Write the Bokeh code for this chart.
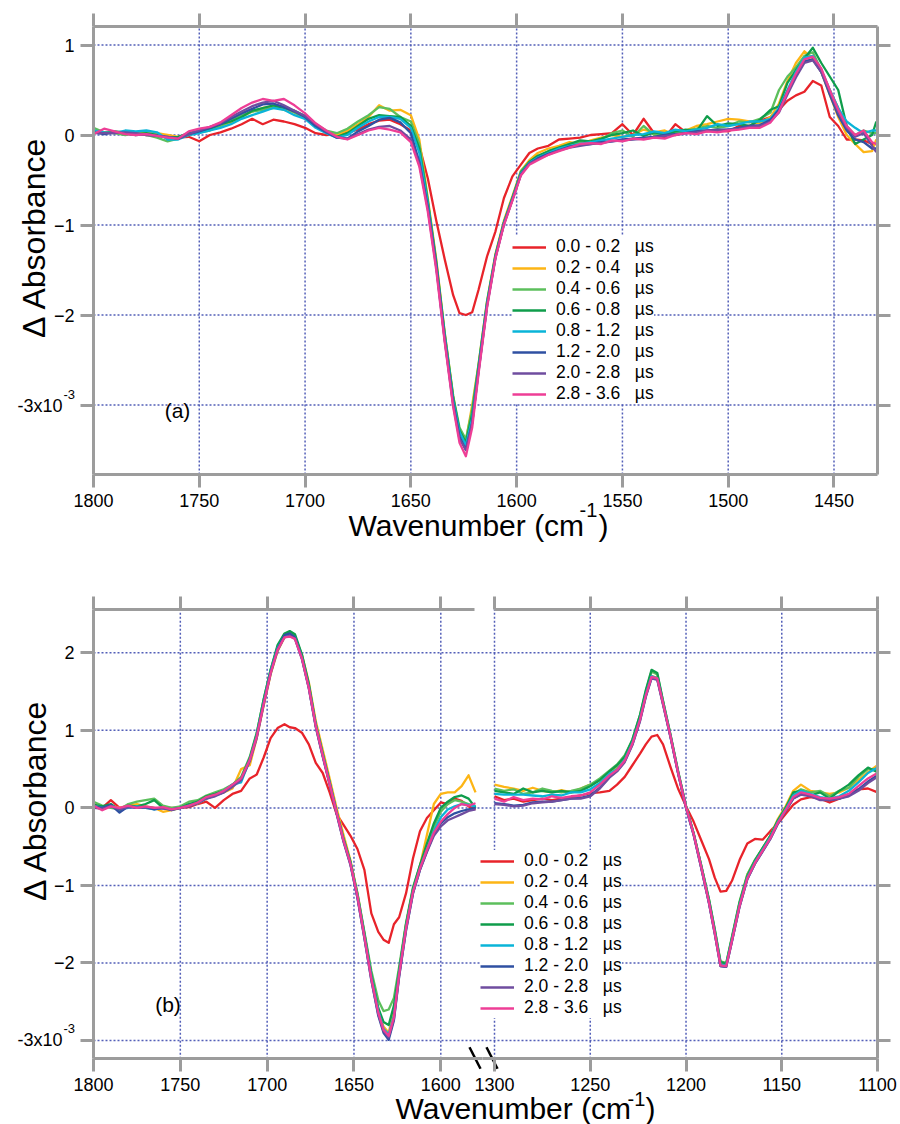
import math
from bokeh.plotting import figure
from bokeh.models import Range1d, LinearAxis, FixedTicker, Legend, LegendItem, Label
from bokeh.layouts import column
from bokeh.embed import file_html
from bokeh.resources import INLINE

# ---------------------------------------------------------------- data
SERIES_LABELS = ["0.0 - 0.2", "0.2 - 0.4", "0.4 - 0.6", "0.6 - 0.8",
                 "0.8 - 1.2", "1.2 - 2.0", "2.0 - 2.8", "2.8 - 3.6"]
COLORS = ["#E8232A", "#FDB515", "#5CBF5C", "#0F9D4B",
          "#0AB4D8", "#2F50A2", "#6F4D9F", "#EE3E96"]

XTICKS_A = [1800, 1750, 1700, 1650, 1600, 1550, 1500, 1450]
YTICKS_A = [-3, -2, -1, 0, 1]
XTICKS_BL = [1800, 1750, 1700, 1650, 1600]
XTICKS_BR = [1300, 1250, 1200, 1150, 1100]
YTICKS_B = [-3, -2, -1, 0, 1, 2]

# panel (a) wavenumbers
XA = [1800, 1795, 1790, 1785, 1780, 1775, 1770, 1765, 1760, 1755,
      1750, 1745, 1740, 1735, 1730, 1725, 1720, 1715, 1710, 1705,
      1700, 1695, 1690, 1685, 1680, 1675, 1670, 1665, 1660, 1655,
      1650, 1646, 1642, 1638, 1634, 1630, 1627, 1624, 1621, 1618,
      1614, 1610, 1606, 1602, 1598, 1594, 1590, 1585, 1580, 1575,
      1570, 1565, 1560, 1555, 1550, 1545, 1540, 1535, 1530, 1525,
      1520, 1515, 1510, 1505, 1500, 1495, 1490, 1485, 1480, 1476,
      1472, 1468, 1464, 1460, 1456, 1452, 1448, 1444, 1440, 1436,
      1432, 1430]

A_S1 = [0.02, 0.03, 0.02, 0.03, 0.02, 0.00, 0.00, -0.02, -0.03, -0.02,
        -0.07, 0.00, 0.03, 0.07, 0.12, 0.18, 0.12, 0.17, 0.15, 0.12,
        0.08, 0.02, 0.00, 0.01, 0.03, 0.06, 0.12, 0.16, 0.17, 0.12,
        0.05, -0.12, -0.48, -0.95, -1.38, -1.78, -1.98, -2.00, -1.97, -1.72,
        -1.35, -1.07, -0.70, -0.46, -0.33, -0.20, -0.15, -0.12, -0.05, -0.04,
        -0.03, 0.00, 0.01, 0.02, 0.12, 0.00, 0.18, 0.02, -0.03, 0.12,
        0.03, 0.05, 0.04, 0.05, 0.04, 0.10, 0.10, 0.16, 0.20, 0.28,
        0.38, 0.44, 0.48, 0.60, 0.55, 0.20, 0.10, -0.05, -0.05, -0.06,
        -0.10, -0.10]
A_S2 = [0.03, 0.02, 0.03, 0.02, 0.00, 0.04, 0.02, 0.00, -0.02, 0.00,
        0.04, 0.06, 0.10, 0.14, 0.20, 0.26, 0.30, 0.32, 0.28, 0.25,
        0.18, 0.10, 0.04, 0.00, 0.05, 0.12, 0.20, 0.33, 0.27, 0.28,
        0.22, -0.05, -0.70, -1.38, -2.20, -2.90, -3.30, -3.40, -3.00, -2.55,
        -1.85, -1.32, -0.95, -0.68, -0.40, -0.28, -0.20, -0.15, -0.12, -0.08,
        -0.10, -0.06, -0.03, 0.00, -0.02, 0.00, 0.06, 0.03, 0.05, 0.00,
        0.05, 0.10, 0.12, 0.15, 0.18, 0.17, 0.15, 0.13, 0.20, 0.35,
        0.60, 0.80, 0.93, 0.85, 0.70, 0.45, 0.20, 0.00, -0.10, -0.19,
        -0.18, -0.05]
A_S3 = [0.08, 0.03, 0.02, 0.00, 0.02, 0.00, -0.03, -0.07, -0.04, 0.00,
        0.03, 0.05, 0.10, 0.16, 0.22, 0.26, 0.28, 0.30, 0.32, 0.25,
        0.20, 0.12, 0.05, 0.02, 0.07, 0.15, 0.22, 0.31, 0.29, 0.20,
        0.15, -0.10, -0.72, -1.40, -2.20, -2.90, -3.25, -3.38, -3.05, -2.55,
        -1.85, -1.33, -0.97, -0.70, -0.40, -0.30, -0.24, -0.18, -0.14, -0.10,
        -0.08, -0.08, -0.05, 0.02, 0.05, -0.02, 0.10, 0.00, 0.02, 0.03,
        0.05, 0.07, 0.10, 0.08, 0.10, 0.15, 0.14, 0.18, 0.25, 0.50,
        0.65, 0.75, 0.88, 0.92, 0.72, 0.50, 0.30, 0.10, 0.00, 0.05,
        0.02, 0.02]
A_S4 = [0.05, 0.02, 0.04, 0.03, 0.01, 0.02, 0.00, -0.03, -0.02, 0.02,
        0.05, 0.07, 0.12, 0.15, 0.20, 0.27, 0.30, 0.33, 0.30, 0.27,
        0.21, 0.10, 0.03, -0.02, 0.02, 0.10, 0.18, 0.22, 0.21, 0.20,
        0.10, -0.15, -0.74, -1.42, -2.22, -2.92, -3.28, -3.42, -3.10, -2.57,
        -1.87, -1.34, -0.97, -0.70, -0.42, -0.30, -0.23, -0.18, -0.14, -0.10,
        -0.06, -0.07, -0.04, 0.00, 0.02, 0.05, -0.01, 0.03, 0.01, 0.04,
        0.06, 0.04, 0.21, 0.10, 0.13, 0.12, 0.10, 0.17, 0.28, 0.32,
        0.58, 0.72, 0.85, 0.97, 0.80, 0.65, 0.50, 0.10, -0.10, -0.05,
        0.00, 0.15]
A_S5 = [0.05, 0.03, 0.02, 0.05, 0.04, 0.05, 0.03, -0.05, -0.05, 0.00,
        0.02, 0.05, 0.08, 0.12, 0.18, 0.22, 0.26, 0.30, 0.28, 0.22,
        0.18, 0.08, 0.02, -0.03, 0.00, 0.08, 0.15, 0.20, 0.20, 0.18,
        0.08, -0.20, -0.76, -1.45, -2.24, -2.95, -3.30, -3.45, -3.15, -2.60,
        -1.88, -1.35, -0.98, -0.71, -0.43, -0.31, -0.25, -0.20, -0.15, -0.12,
        -0.10, -0.08, -0.06, -0.04, -0.02, 0.00, 0.01, 0.04, 0.02, 0.06,
        0.04, 0.06, 0.08, 0.12, 0.10, 0.12, 0.15, 0.15, 0.18, 0.30,
        0.50, 0.70, 0.86, 0.88, 0.72, 0.50, 0.30, 0.15, 0.08, 0.02,
        0.05, 0.05]
A_S6 = [0.03, 0.01, 0.03, 0.02, 0.00, 0.01, -0.01, -0.02, -0.04, 0.01,
        0.04, 0.08, 0.12, 0.18, 0.24, 0.29, 0.34, 0.35, 0.31, 0.26,
        0.20, 0.10, 0.03, -0.03, -0.04, 0.04, 0.10, 0.17, 0.19, 0.14,
        0.02, -0.30, -0.80, -1.45, -2.27, -2.98, -3.35, -3.50, -3.20, -2.62,
        -1.90, -1.36, -0.99, -0.72, -0.44, -0.32, -0.26, -0.21, -0.17, -0.13,
        -0.11, -0.10, -0.08, -0.07, -0.05, -0.04, -0.03, -0.02, 0.00, 0.01,
        0.02, 0.04, 0.05, 0.06, 0.06, 0.08, 0.10, 0.11, 0.17, 0.28,
        0.48, 0.66, 0.82, 0.84, 0.70, 0.45, 0.22, 0.05, -0.05, -0.08,
        -0.15, -0.15]
A_S7 = [0.02, 0.02, 0.02, 0.03, 0.02, 0.00, -0.01, -0.02, -0.04, 0.01,
        0.05, 0.09, 0.13, 0.20, 0.26, 0.32, 0.36, 0.38, 0.33, 0.27,
        0.21, 0.12, 0.04, -0.02, -0.04, 0.01, 0.06, 0.09, 0.10, 0.05,
        -0.05, -0.32, -0.82, -1.47, -2.28, -3.00, -3.38, -3.50, -3.20, -2.63,
        -1.90, -1.36, -0.99, -0.72, -0.44, -0.32, -0.27, -0.22, -0.17, -0.14,
        -0.12, -0.10, -0.09, -0.07, -0.06, -0.05, -0.04, -0.03, -0.01, 0.00,
        0.02, 0.03, 0.05, 0.05, 0.06, 0.07, 0.09, 0.10, 0.15, 0.25,
        0.45, 0.64, 0.80, 0.83, 0.70, 0.48, 0.25, 0.08, -0.02, 0.02,
        -0.12, -0.19]
A_S8 = [0.01, 0.07, 0.04, 0.01, 0.00, 0.01, -0.01, -0.03, -0.04, 0.04,
        0.07, 0.09, 0.14, 0.22, 0.30, 0.36, 0.40, 0.38, 0.40, 0.33,
        0.24, 0.13, 0.05, -0.02, -0.05, 0.00, 0.05, 0.08, 0.06, 0.03,
        -0.08, -0.35, -0.85, -1.50, -2.30, -3.02, -3.42, -3.57, -3.25, -2.65,
        -1.92, -1.37, -1.00, -0.73, -0.45, -0.33, -0.28, -0.22, -0.18, -0.14,
        -0.10, -0.09, -0.10, -0.06, -0.07, -0.04, -0.05, -0.03, -0.04, 0.00,
        0.02, 0.01, 0.04, 0.03, 0.05, 0.06, 0.08, 0.08, 0.14, 0.26,
        0.48, 0.68, 0.84, 0.87, 0.74, 0.50, 0.28, 0.10, 0.00, 0.05,
        -0.08, -0.10]

# panel (b), high-wavenumber segment
XBL = [1800, 1795, 1790, 1785, 1780, 1775, 1770, 1765, 1760, 1755,
       1750, 1745, 1740, 1735, 1730, 1725, 1720, 1715, 1710,
       1706, 1702, 1698, 1694, 1690, 1687, 1684,
       1680, 1676, 1672, 1668, 1664, 1660, 1656, 1652, 1648, 1644, 1640, 1636,
       1633, 1630, 1627, 1624,
       1620, 1616, 1612, 1608, 1604, 1600, 1596, 1592, 1588, 1584, 1580]

BL_S1 = [0.05, 0.00, 0.10, 0.00, 0.02, 0.03, 0.00, -0.01, 0.00, 0.00,
         0.00, 0.01, 0.05, 0.08, 0.00, 0.10, 0.18, 0.22, 0.38,
         0.43, 0.65, 0.90, 1.03, 1.08, 1.04, 1.03,
         0.97, 0.82, 0.58, 0.45, 0.20, -0.08, -0.22, -0.36, -0.53, -0.80, -1.36, -1.60,
         -1.70, -1.74, -1.50, -1.41,
         -1.10, -0.65, -0.30, -0.13, -0.03, 0.07, 0.05, 0.12, 0.09, 0.02, -0.02]
BL_S2 = [0.02, -0.02, 0.03, 0.00, 0.03, 0.05, 0.02, 0.00, -0.05, -0.03,
         0.00, 0.04, 0.06, 0.12, 0.17, 0.20, 0.25, 0.50, 0.55,
         0.90, 1.32, 1.72, 2.02, 2.20, 2.22, 2.20,
         1.98, 1.62, 1.12, 0.75, 0.38, 0.00, -0.35, -0.68, -1.10, -1.62, -2.15, -2.60,
         -2.82, -2.90, -2.60, -2.10,
         -1.50, -1.05, -0.75, -0.35, 0.05, 0.18, 0.20, 0.20, 0.28, 0.42, 0.20]
BL_S3 = [0.08, 0.03, 0.00, -0.02, 0.05, 0.08, 0.10, 0.12, 0.03, 0.00,
         0.02, 0.08, 0.10, 0.16, 0.20, 0.24, 0.30, 0.40, 0.66,
         0.97, 1.40, 1.78, 2.08, 2.24, 2.26, 2.22,
         1.96, 1.58, 1.08, 0.70, 0.33, -0.05, -0.40, -0.70, -1.10, -1.60, -2.10, -2.48,
         -2.62, -2.60, -2.45, -2.05,
         -1.48, -1.02, -0.74, -0.50, -0.25, -0.05, 0.05, 0.10, 0.08, 0.05, 0.02]
BL_S4 = [0.04, 0.02, 0.05, -0.03, 0.03, 0.02, 0.05, 0.10, 0.00, -0.02,
         0.00, 0.05, 0.08, 0.15, 0.18, 0.22, 0.30, 0.38, 0.64,
         0.96, 1.40, 1.78, 2.10, 2.25, 2.28, 2.24,
         1.98, 1.60, 1.08, 0.70, 0.33, -0.05, -0.40, -0.70, -1.12, -1.62, -2.15, -2.58,
         -2.76, -2.80, -2.55, -2.10,
         -1.50, -1.04, -0.74, -0.46, -0.20, 0.00, 0.08, 0.14, 0.16, 0.12, 0.00]
BL_S5 = [0.03, 0.00, 0.03, -0.02, 0.00, 0.02, 0.00, -0.02, 0.00, -0.02,
         0.00, 0.03, 0.06, 0.12, 0.16, 0.22, 0.30, 0.33, 0.62,
         0.93, 1.36, 1.76, 2.06, 2.22, 2.23, 2.20,
         1.94, 1.56, 1.06, 0.68, 0.32, -0.06, -0.42, -0.72, -1.14, -1.65, -2.18, -2.62,
         -2.85, -2.92, -2.68, -2.14,
         -1.54, -1.08, -0.78, -0.54, -0.30, -0.12, -0.02, 0.02, 0.05, 0.04, 0.02]
BL_S6 = [0.02, 0.00, 0.04, -0.06, 0.02, 0.00, 0.01, -0.02, 0.00, -0.03,
         0.00, 0.03, 0.07, 0.13, 0.16, 0.20, 0.28, 0.37, 0.62,
         0.92, 1.35, 1.75, 2.05, 2.23, 2.25, 2.20,
         1.93, 1.55, 1.05, 0.67, 0.31, -0.07, -0.43, -0.73, -1.16, -1.68, -2.22, -2.68,
         -2.90, -2.99, -2.74, -2.18,
         -1.58, -1.10, -0.80, -0.56, -0.34, -0.20, -0.12, -0.07, -0.04, -0.02, 0.00]
BL_S7 = [0.00, -0.01, 0.02, -0.02, 0.01, 0.00, 0.01, 0.00, -0.01, -0.02,
         0.00, 0.02, 0.06, 0.12, 0.15, 0.20, 0.27, 0.36, 0.60,
         0.90, 1.33, 1.73, 2.03, 2.20, 2.22, 2.18,
         1.92, 1.54, 1.04, 0.66, 0.30, -0.08, -0.44, -0.74, -1.16, -1.68, -2.22, -2.66,
         -2.88, -2.96, -2.72, -2.17,
         -1.57, -1.10, -0.80, -0.57, -0.36, -0.24, -0.16, -0.12, -0.08, -0.04, -0.02]
BL_S8 = [0.03, -0.03, 0.02, 0.00, 0.03, 0.00, 0.02, 0.00, 0.01, -0.02,
         0.00, 0.03, 0.07, 0.14, 0.17, 0.22, 0.30, 0.38, 0.62,
         0.92, 1.34, 1.74, 2.04, 2.20, 2.21, 2.18,
         1.93, 1.55, 1.06, 0.68, 0.31, -0.06, -0.42, -0.72, -1.14, -1.66, -2.20, -2.64,
         -2.86, -2.94, -2.70, -2.15,
         -1.55, -1.08, -0.78, -0.54, -0.32, -0.18, -0.08, 0.00, 0.05, 0.03, 0.06]

# panel (b), low-wavenumber segment
XBR = [1300, 1295, 1290, 1285, 1280, 1275, 1270, 1265, 1260, 1255,
       1250, 1245, 1240, 1236, 1232, 1228, 1224, 1221, 1218, 1215,
       1212, 1208, 1204, 1200, 1196, 1192, 1188, 1185, 1182, 1179,
       1176, 1172, 1168, 1164, 1160, 1156, 1152, 1148, 1144, 1140,
       1135, 1130, 1125, 1120, 1115, 1110, 1105, 1100]

BR_S1 = [0.15, 0.10, 0.12, 0.08, 0.10, 0.12, 0.10, 0.12, 0.14, 0.16,
         0.19, 0.20, 0.22, 0.30, 0.40, 0.55, 0.70, 0.82, 0.92, 0.94,
         0.82, 0.52, 0.24, 0.02, -0.18, -0.42, -0.66, -0.90, -1.08, -1.07,
         -0.94, -0.67, -0.46, -0.40, -0.41, -0.30, -0.20, -0.08, 0.04, 0.11,
         0.14, 0.12, 0.07, 0.12, 0.18, 0.24, 0.25, 0.20]
BR_S2 = [0.30, 0.27, 0.25, 0.22, 0.26, 0.22, 0.20, 0.23, 0.20, 0.25,
         0.30, 0.35, 0.45, 0.52, 0.63, 0.85, 1.15, 1.45, 1.70, 1.68,
         1.36, 0.92, 0.45, 0.02, -0.33, -0.75, -1.20, -1.58, -2.00, -2.02,
         -1.68, -1.22, -0.86, -0.68, -0.52, -0.36, -0.14, 0.02, 0.22, 0.30,
         0.22, 0.20, 0.18, 0.20, 0.26, 0.36, 0.46, 0.55]
BR_S3 = [0.25, 0.22, 0.24, 0.18, 0.20, 0.25, 0.22, 0.20, 0.22, 0.25,
         0.30, 0.38, 0.48, 0.56, 0.68, 0.88, 1.20, 1.50, 1.76, 1.72,
         1.38, 0.93, 0.45, 0.02, -0.33, -0.75, -1.18, -1.56, -1.98, -2.00,
         -1.66, -1.20, -0.86, -0.67, -0.52, -0.36, -0.16, 0.00, 0.18, 0.24,
         0.20, 0.22, 0.15, 0.22, 0.26, 0.40, 0.50, 0.50]
BR_S4 = [0.22, 0.20, 0.18, 0.25, 0.20, 0.22, 0.20, 0.22, 0.20, 0.22,
         0.28, 0.36, 0.47, 0.55, 0.66, 0.88, 1.20, 1.52, 1.78, 1.74,
         1.38, 0.93, 0.46, 0.02, -0.33, -0.75, -1.18, -1.57, -1.99, -2.01,
         -1.67, -1.22, -0.88, -0.68, -0.52, -0.36, -0.16, 0.00, 0.20, 0.22,
         0.16, 0.20, 0.12, 0.22, 0.30, 0.42, 0.52, 0.46]
BR_S5 = [0.18, 0.17, 0.17, 0.17, 0.16, 0.15, 0.17, 0.16, 0.20, 0.20,
         0.24, 0.32, 0.44, 0.50, 0.62, 0.84, 1.15, 1.46, 1.70, 1.67,
         1.35, 0.91, 0.44, 0.01, -0.34, -0.77, -1.22, -1.60, -2.02, -2.03,
         -1.70, -1.25, -0.90, -0.70, -0.54, -0.38, -0.18, -0.02, 0.16, 0.22,
         0.18, 0.14, 0.12, 0.15, 0.22, 0.33, 0.45, 0.52]
BR_S6 = [0.06, 0.05, 0.03, 0.04, 0.07, 0.08, 0.08, 0.10, 0.12, 0.13,
         0.16, 0.26, 0.40, 0.48, 0.60, 0.82, 1.13, 1.44, 1.68, 1.66,
         1.34, 0.90, 0.43, 0.00, -0.35, -0.78, -1.23, -1.62, -2.04, -2.05,
         -1.72, -1.27, -0.92, -0.72, -0.56, -0.40, -0.20, -0.04, 0.12, 0.18,
         0.16, 0.12, 0.10, 0.12, 0.16, 0.24, 0.34, 0.42]
BR_S7 = [0.05, 0.04, 0.02, 0.03, 0.06, 0.07, 0.08, 0.10, 0.12, 0.12,
         0.15, 0.25, 0.39, 0.47, 0.59, 0.81, 1.12, 1.43, 1.67, 1.65,
         1.33, 0.90, 0.43, 0.00, -0.35, -0.78, -1.23, -1.62, -2.04, -2.05,
         -1.72, -1.27, -0.92, -0.72, -0.56, -0.40, -0.20, -0.04, 0.12, 0.17,
         0.15, 0.10, 0.10, 0.12, 0.15, 0.22, 0.32, 0.40]
BR_S8 = [0.12, 0.08, 0.14, 0.10, 0.12, 0.11, 0.15, 0.13, 0.15, 0.16,
         0.20, 0.30, 0.42, 0.49, 0.61, 0.83, 1.14, 1.45, 1.69, 1.67,
         1.35, 0.91, 0.44, 0.01, -0.34, -0.77, -1.22, -1.61, -2.03, -2.04,
         -1.71, -1.26, -0.91, -0.71, -0.55, -0.39, -0.19, -0.03, 0.14, 0.20,
         0.17, 0.13, 0.12, 0.14, 0.18, 0.28, 0.38, 0.45]

A_SERIES = [A_S1, A_S2, A_S3, A_S4, A_S5, A_S6, A_S7, A_S8]
BL_SERIES = [BL_S1, BL_S2, BL_S3, BL_S4, BL_S5, BL_S6, BL_S7, BL_S8]
BR_SERIES = [BR_S1, BR_S2, BR_S3, BR_S4, BR_S5, BR_S6, BR_S7, BR_S8]

# ---------------------------------------------------------------- style / geometry
FONT = "Liberation Sans"
AXIS_GREY = "#9c9c9c"
GRID_BLUE = "#4a56b4"
LINE_W = 2.3
TICK_FS = "18px"
LEG_FS = "17.5px"

PAGE_W = 900
A_H = 560            # canvas (a): page y 0..560
B_TOP_PAGE = 560     # canvas (b): page y 560..1124
B_H = 564

# panel (a) mapping from page pixels
def AX(px): return 1800 - (px - 93.0) / 2.1157
def AY(py): return (134.5 - py) / 90.0
# panel (b) mapping from page pixels
def BLX(px): return 1800 - (px - 93.0) / 1.7365
def BRX(px): return 1300 - (px - 494.0) / 1.9152
def BY(py): return (807.4 - py) / 77.54

A_L, A_R, A_T, A_B = 93.0, 877.0, 26.0, 474.0
B_L, B_R, B_T, B_B = 93.0, 877.0, 609.0, 1058.3
B_SPLIT = 482.0


def style_axis(ax, show_labels=True, standoff=6):
    ax.axis_line_color = AXIS_GREY
    ax.axis_line_width = 3
    ax.major_tick_line_color = AXIS_GREY
    ax.major_tick_line_width = 3
    ax.major_tick_out = 13
    ax.major_tick_in = 0
    ax.minor_tick_line_color = None
    ax.major_label_text_font = FONT
    ax.major_label_text_font_size = TICK_FS
    ax.major_label_standoff = standoff
    ax.major_label_text_color = "black" if show_labels else None


def add_axis(p, side, ticks, fixed, bounds, show_labels, range_name=None, overrides=None):
    kw = {}
    if range_name is not None:
        kw["x_range_name"] = range_name
    ax = LinearAxis(ticker=FixedTicker(ticks=ticks), fixed_location=fixed,
                    bounds=bounds, **kw)
    style_axis(ax, show_labels)
    if overrides:
        ax.major_label_overrides = overrides
    p.add_layout(ax, side)
    return ax


def new_fig(xr, yr, h, extra=None):
    kw = {}
    if extra:
        kw["extra_x_ranges"] = extra
    p = figure(x_range=xr, y_range=yr, width=PAGE_W, height=h,
               min_border_left=0, min_border_right=0, min_border_top=0, min_border_bottom=0,
               x_axis_location=None, y_axis_location=None,
               output_backend="svg", toolbar_location=None, **kw)
    p.outline_line_color = None
    p.background_fill_color = "white"
    p.border_fill_color = "white"
    for g in p.grid:
        g.visible = False
    return p


def grid_lines(p, x0, y0, x1, y1, range_name=None):
    kw = {}
    if range_name is not None:
        kw["x_range_name"] = range_name
    p.segment(x0=x0, y0=y0, x1=x1, y1=y1, line_color=GRID_BLUE, line_width=1.5,
              line_dash="2 2", line_alpha=0.95, **kw)


def add_label(p, x, y, text, size, align="left", baseline="middle", angle=0.0):
    p.add_layout(Label(x=x, y=y, text=text, text_font=FONT, text_font_size=size,
                       text_align=align, text_baseline=baseline, angle=angle,
                       text_color="black"))


def make_legend(renderers, loc):
    items = [LegendItem(label=lbl + "\u00a0\u00a0\u00a0\u00b5s", renderers=[r])
             for lbl, r in zip(SERIES_LABELS, renderers)]
    return Legend(items=items, location=loc, glyph_width=34, glyph_height=20,
                  label_height=20, label_standoff=10, spacing=0, padding=3, margin=0,
                  background_fill_color="white", background_fill_alpha=1.0,
                  border_line_color=None, label_text_font=FONT,
                  label_text_font_size=LEG_FS, label_text_color="black")

# ---------------------------------------------------------------- panel (a)
pa = new_fig(Range1d(AX(0), AX(PAGE_W)), Range1d(AY(A_H), AY(0)), A_H)
ya_bot, ya_top = AY(A_B), AY(A_T)
xa_right = AX(A_R)

vx = XTICKS_A[1:]
grid_lines(pa, vx, [ya_bot] * len(vx), vx, [ya_top] * len(vx))
grid_lines(pa, [1800] * len(YTICKS_A), YTICKS_A, [xa_right] * len(YTICKS_A), YTICKS_A)

ra = [pa.line(XA, ys, line_color=c, line_width=LINE_W, line_join="round")
      for ys, c in zip(A_SERIES, COLORS)]

add_axis(pa, "below", XTICKS_A, ya_bot, (xa_right, 1800.01), True)
add_axis(pa, "above", XTICKS_A, ya_top, (xa_right, 1800.01), False)
add_axis(pa, "left", YTICKS_A, 1800, (ya_bot, ya_top), True, overrides={-3: ""})
add_axis(pa, "right", YTICKS_A, xa_right, (ya_bot, ya_top), False)

pa.add_layout(make_legend(ra, (512, A_H - 404)))

add_label(pa, AX(348), AY(524.5), "Wavenumber (cm", "30px")
add_label(pa, AX(579), AY(509), "-1", "20px")
add_label(pa, AX(598), AY(524.5), ")", "30px")
add_label(pa, AX(33), AY(237), "\u0394 Absorbance", "32px", "center", "middle", math.pi / 2)
add_label(pa, AX(62), AY(405), "-3x10", TICK_FS, "right")
add_label(pa, AX(63), AY(394), "-3", "13px", "left")
add_label(pa, AX(177), AY(410), "(a)", "21px", "center")

# ---------------------------------------------------------------- panel (b)
pb = new_fig(Range1d(BLX(0), BLX(PAGE_W)), Range1d(BY(1124), BY(B_TOP_PAGE)), B_H,
             extra={"r": Range1d(BRX(0), BRX(PAGE_W))})
yb_bot, yb_top = BY(B_B), BY(B_T)

vl = XTICKS_BL[1:]
vr = XTICKS_BR[:-1]
grid_lines(pb, vl, [yb_bot] * len(vl), vl, [yb_top] * len(vl))
grid_lines(pb, vr, [yb_bot] * len(vr), vr, [yb_top] * len(vr), range_name="r")
grid_lines(pb, [1800] * len(YTICKS_B), YTICKS_B, [BLX(B_R)] * len(YTICKS_B), YTICKS_B)

for ys, c in zip(BL_SERIES, COLORS):
    pb.line(XBL, ys, line_color=c, line_width=LINE_W, line_join="round")
rbr = [pb.line(XBR, ys, line_color=c, line_width=LINE_W, line_join="round",
               x_range_name="r")
       for ys, c in zip(BR_SERIES, COLORS)]

# axes: broken top frame, continuous bottom axis
add_axis(pb, "below", XTICKS_BL, yb_bot, (BLX(B_SPLIT), 1800.01), True)
add_axis(pb, "below", XTICKS_BR, yb_bot, (1099.99, BRX(B_SPLIT)), True, range_name="r")
add_axis(pb, "above", XTICKS_BL, yb_top, (BLX(474), 1800.01), False)
add_axis(pb, "above", XTICKS_BR, yb_top, (1099.99, 1300.01), False, range_name="r")
add_axis(pb, "left", YTICKS_B, 1800, (yb_bot, yb_top), True, overrides={-3: ""})
add_axis(pb, "right", YTICKS_B, 1100, (yb_bot, yb_top), False, range_name="r")

# axis-break marks
pb.segment(x0=[BLX(469), BLX(486)], y0=[BY(1046.7)] * 2,
           x1=[BLX(480), BLX(497)], y1=[BY(1068.3)] * 2,
           line_color="black", line_width=2.5)

pb.add_layout(make_legend(rbr, (480, 1124 - 1018)))

add_label(pb, BLX(395), BY(1107.5), "Wavenumber (cm", "30px")
add_label(pb, BLX(627), BY(1098), "-1", "20px")
add_label(pb, BLX(645), BY(1107.5), ")", "30px")
add_label(pb, BLX(34), BY(800), "\u0394 Absorbance", "32px", "center", "middle", math.pi / 2)
add_label(pb, BLX(62), BY(1039), "-3x10", TICK_FS, "right")
add_label(pb, BLX(63), BY(1027.5), "-3", "13px", "left")
add_label(pb, BLX(167.5), BY(1003.5), "(b)", "21px", "center")

layout = column(pa, pb)

with open("out.html", "w", encoding="utf-8") as f:
    f.write(file_html(layout, INLINE, title="Delta absorbance spectra"))
